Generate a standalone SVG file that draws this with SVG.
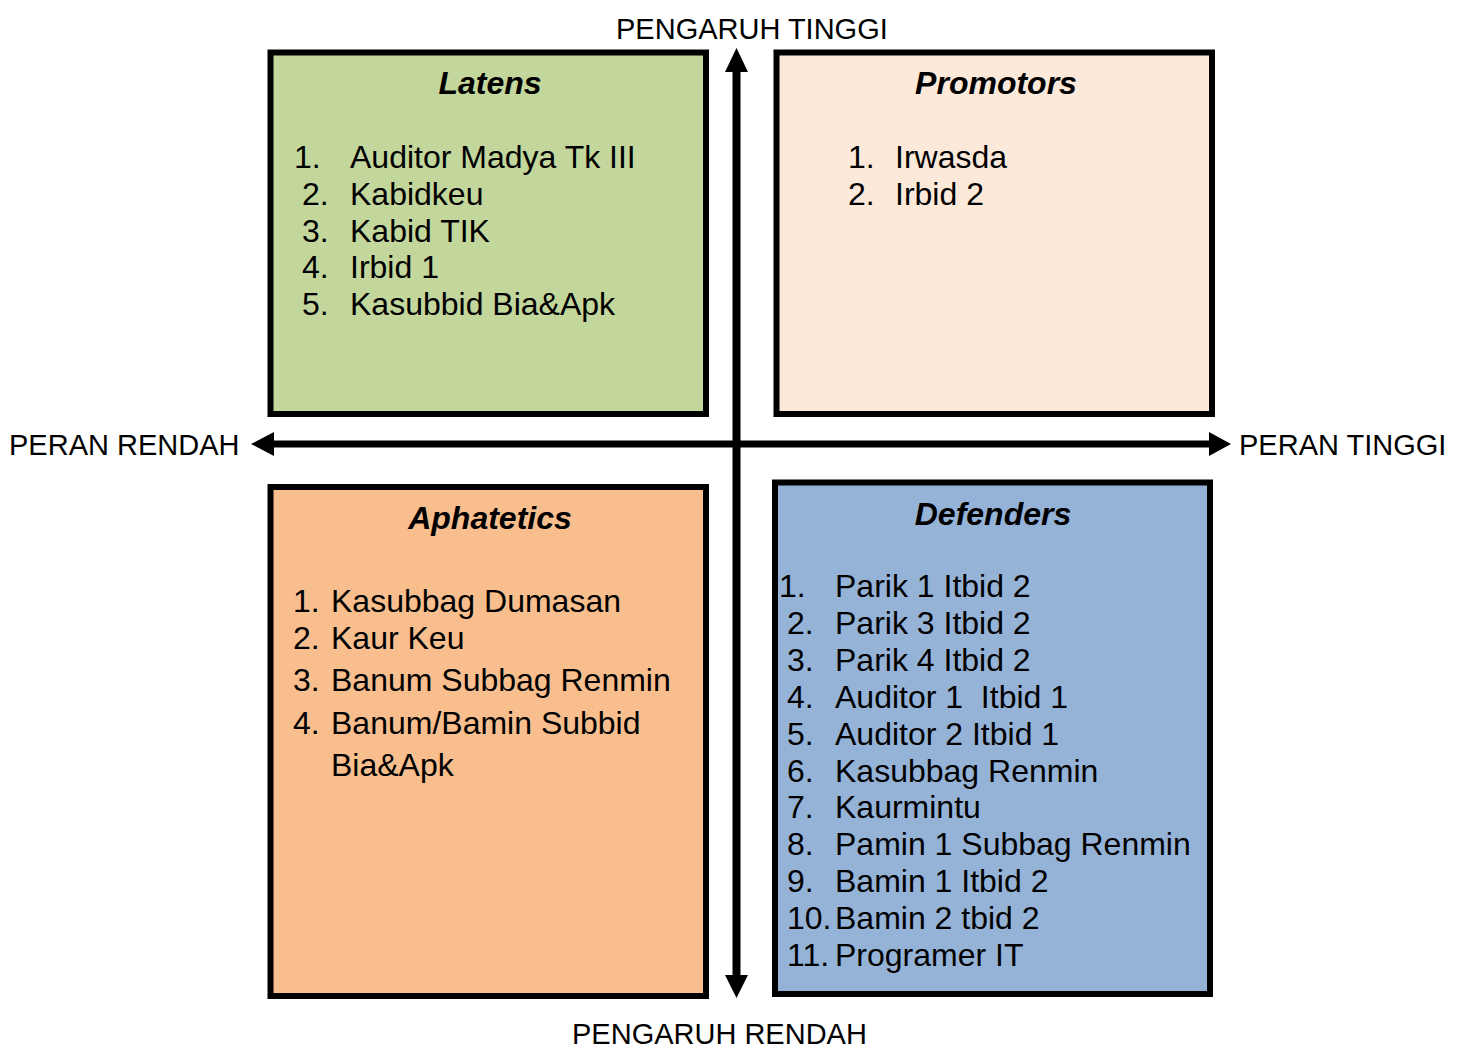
<svg xmlns="http://www.w3.org/2000/svg" width="1459" height="1050" viewBox="0 0 1459 1050">
<style>
.box{stroke:#000;stroke-width:6}
.t{font-family:"Liberation Sans",Arial,sans-serif;font-size:32px;fill:#000}
.h{font-family:"Liberation Sans",Arial,sans-serif;font-size:32px;font-weight:bold;font-style:italic;fill:#000;text-anchor:middle}
.ax{font-family:"Liberation Sans",Arial,sans-serif;font-size:29px;fill:#000}
</style>
<rect width="1459" height="1050" fill="#fff"/>
<g id="connectors">
<line x1="736.5" y1="70" x2="736.5" y2="977" stroke="#000" stroke-width="8"/>
<line x1="272" y1="444" x2="1211" y2="444" stroke="#000" stroke-width="7"/>
<polygon points="736.5,48 725,72 748,72" fill="#000"/>
<polygon points="736.5,998 725,975 748,975" fill="#000"/>
<polygon points="251,444 274,432 274,456" fill="#000"/>
<polygon points="1231,444 1209,432 1209,456" fill="#000"/>
</g>
<g id="axis-labels">
<text class="ax" x="616" y="38.5">PENGARUH TINGGI</text>
<text class="ax" x="572" y="1043.5">PENGARUH RENDAH</text>
<text class="ax" x="9" y="454.5">PERAN RENDAH</text>
<text class="ax" x="1239" y="454.5">PERAN TINGGI</text>
</g>
<g id="latens">
<rect class="box" x="270.5" y="52.5" width="435.5" height="361.5" fill="#C3D69B"/>
<text class="h" x="490" y="94">Latens</text>
<text class="t" x="294" y="168">1.</text><text class="t" x="350" y="168">Auditor Madya Tk III</text>
<text class="t" x="302" y="205">2.</text><text class="t" x="350" y="205">Kabidkeu</text>
<text class="t" x="302" y="242">3.</text><text class="t" x="350" y="242">Kabid TIK</text>
<text class="t" x="302" y="278">4.</text><text class="t" x="350" y="278">Irbid 1</text>
<text class="t" x="302" y="315">5.</text><text class="t" x="350" y="315">Kasubbid Bia&amp;Apk</text>
</g>
<g id="promotors">
<rect class="box" x="776.5" y="52.5" width="435.5" height="361.5" fill="#FDE9D9"/>
<text class="h" x="996" y="94">Promotors</text>
<text class="t" x="848" y="168">1.</text><text class="t" x="895" y="168">Irwasda</text>
<text class="t" x="848" y="205">2.</text><text class="t" x="895" y="205">Irbid 2</text>
</g>
<g id="aphatetics">
<rect class="box" x="270.5" y="487" width="435.5" height="509" fill="#F8BE8E"/>
<text class="h" x="490" y="529">Aphatetics</text>
<text class="t" x="293" y="612">1.</text><text class="t" x="331" y="612">Kasubbag Dumasan</text>
<text class="t" x="293" y="649">2.</text><text class="t" x="331" y="649">Kaur Keu</text>
<text class="t" x="293" y="691">3.</text><text class="t" x="331" y="691">Banum Subbag Renmin</text>
<text class="t" x="293" y="734">4.</text><text class="t" x="331" y="734">Banum/Bamin Subbid</text>
<text class="t" x="331" y="776">Bia&amp;Apk</text>
</g>
<g id="defenders">
<rect class="box" x="775" y="482.5" width="435" height="511.5" fill="#95B3D7"/>
<text class="h" x="993" y="525">Defenders</text>
<text class="t" x="779" y="597">1.</text><text class="t" x="835" y="597">Parik 1 Itbid 2</text>
<text class="t" x="787" y="634">2.</text><text class="t" x="835" y="634">Parik 3 Itbid 2</text>
<text class="t" x="787" y="671">3.</text><text class="t" x="835" y="671">Parik 4 Itbid 2</text>
<text class="t" x="787" y="708">4.</text><text class="t" x="835" y="708" xml:space="preserve">Auditor 1  Itbid 1</text>
<text class="t" x="787" y="745">5.</text><text class="t" x="835" y="745">Auditor 2 Itbid 1</text>
<text class="t" x="787" y="782">6.</text><text class="t" x="835" y="782">Kasubbag Renmin</text>
<text class="t" x="787" y="818">7.</text><text class="t" x="835" y="818">Kaurmintu</text>
<text class="t" x="787" y="855">8.</text><text class="t" x="835" y="855">Pamin 1 Subbag Renmin</text>
<text class="t" x="787" y="892">9.</text><text class="t" x="835" y="892">Bamin 1 Itbid 2</text>
<text class="t" x="787" y="929">10.</text><text class="t" x="835" y="929">Bamin 2 tbid 2</text>
<text class="t" x="787" y="966">11.</text><text class="t" x="835" y="966">Programer IT</text>
</g>
</svg>
